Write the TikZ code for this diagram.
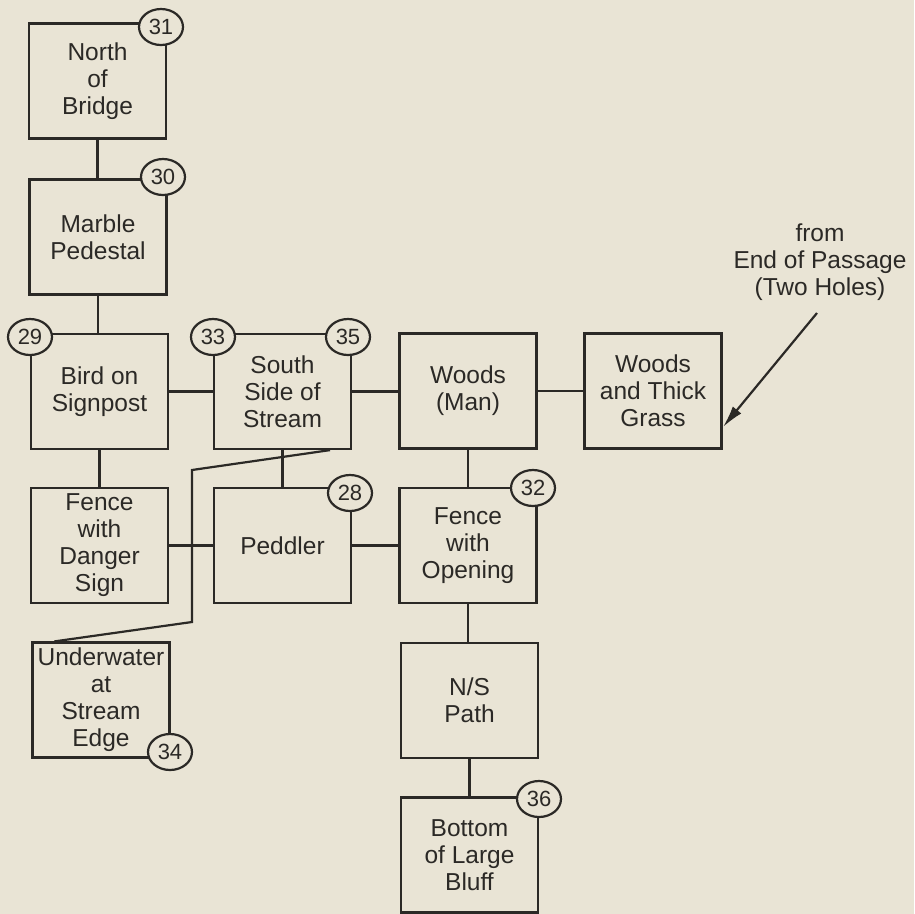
\documentclass[tikz,border=0pt]{standalone}
\usepackage{fontspec}
\setmainfont{Liberation Sans}
\usetikzlibrary{shapes.geometric,arrows.meta,calc}
\definecolor{bg}{HTML}{E9E4D5}
\definecolor{ink}{HTML}{2B2926}
\begin{document}
\begin{tikzpicture}[x=1pt,y=-1pt,
  room/.style={draw=ink, fill=bg, line width=2.2pt, minimum width=137pt, minimum height=115pt,
    inner sep=0pt, align=center, font=\fontsize{24.5}{27}\selectfont, text=ink},
  num/.style={ellipse, draw=ink, fill=bg, line width=2.2pt, minimum width=44pt, minimum height=36pt,
    inner sep=0pt, font=\fontsize{22}{22}\selectfont, text=ink},
  link/.style={draw=ink, line width=2.2pt},
  note/.style={align=center, font=\fontsize{24.5}{27}\selectfont, text=ink, inner sep=0pt}]
\fill[bg] (0,0) rectangle (914,914);
\useasboundingbox (0,0) rectangle (914,914);
% rooms
\node[room] (nb) at (97.5,81) {North\\of\\Bridge};
\node[room] (mp) at (98,237) {Marble\\Pedestal};
\node[room] (bs) at (99.5,391.5) {Bird on\\Signpost};
\node[room] (ss) at (282.5,391.5) {South\\Side of\\Stream};
\node[room] (wm) at (468,391) {Woods\\(Man)};
\node[room] (wg) at (653,391) {Woods\\and Thick\\Grass};
\node[room] (fd) at (99.5,545.5) {Fence\\with\\Danger\\Sign};
\node[room] (pd) at (282.5,545.5) {Peddler};
\node[room] (fo) at (468,545.5) {Fence\\with\\Opening};
\node[room] (uw) at (101,700) {Underwater\\at\\Stream\\Edge};
\node[room] (ns) at (469.5,700.5) {N/S\\Path};
\node[room] (bl) at (469.5,855) {Bottom\\of Large\\Bluff};
% connectors
\draw[link] (nb.south) -- (nb.south |- mp.north);
\draw[link] (mp.south) -- (mp.south |- bs.north);
\draw[link] (bs.east) -- (bs.east -| ss.west);
\draw[link] (ss.east) -- (ss.east -| wm.west);
\draw[link] (wm.east) -- (wm.east -| wg.west);
\draw[link] (bs.south) -- (bs.south |- fd.north);
\draw[link] (ss.south) -- (ss.south |- pd.north);
\draw[link] (wm.south) -- (wm.south |- fo.north);
\draw[link] (fd.east) -- (fd.east -| pd.west);
\draw[link] (pd.east) -- (pd.east -| fo.west);
\draw[link] (fo.south) -- (fo.south |- ns.north);
\draw[link] (ns.south) -- (ns.south |- bl.north);
\coordinate (k1) at (192,470);
\coordinate (k2) at (192,622);
\draw[link] ($(ss.south east)+(-22,0)$) -- (k1) -- (k2) -- ($(uw.north west)+(23,0)$);
% entry note
\node[note] (from) at (820,262) {from\\End of Passage\\(Two Holes)};
\coordinate (as) at (817,313);
\coordinate (tip) at (723,427);
\draw[link, -{Latex[length=22pt,width=11pt]}] (as) -- (tip);
% numbers
\node[num] (c31) at (161,27) {31};
\node[num] (c30) at (163,177) {30};
\node[num] (c29) at (30,337) {29};
\node[num] (c33) at (213,337) {33};
\node[num] (c35) at (348,337) {35};
\node[num] (c28) at (350,493) {28};
\node[num] (c32) at (533,488) {32};
\node[num] (c34) at (170,752) {34};
\node[num] (c36) at (539,799) {36};
\end{tikzpicture}
\end{document}
